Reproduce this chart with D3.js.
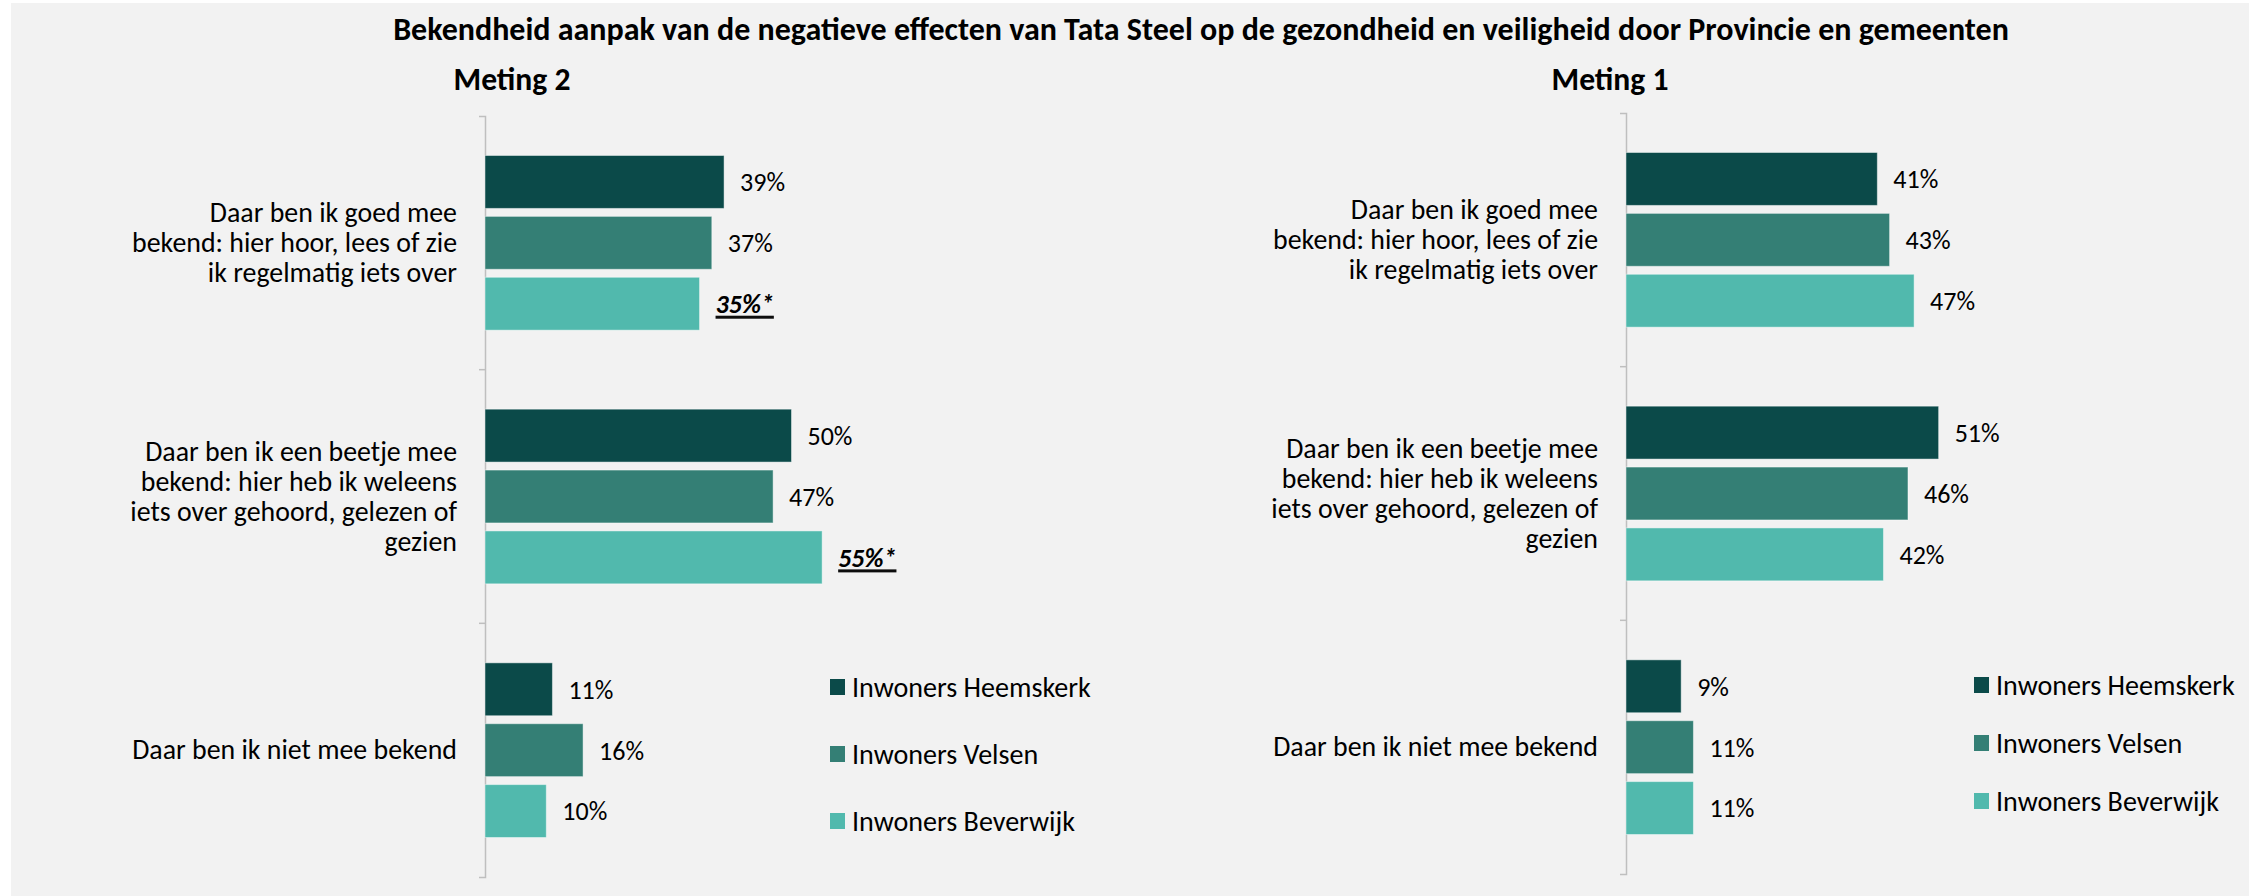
<!DOCTYPE html>
<html>
<head>
<meta charset="utf-8">
<script src="https://cdn.jsdelivr.net/npm/d3@7"></script>
<style>
  body { margin: 0; background: #ffffff; }
  text { font-family: Carlito, Calibri, Lato, "Open Sans", sans-serif; fill: #000; }
</style>
</head>
<body>
<svg id="chart" width="2249" height="896"></svg>
<script>
// categories (wrapped like in the original)
const categories = [
    "Daar ben ik goed mee bekend: hier hoor, lees of zie ik regelmatig iets over",
    "Daar ben ik een beetje mee bekend: hier heb ik weleens iets over gehoord, gelezen of gezien",
    "Daar ben ik niet mee bekend"
];
const categoryLines = [
    ["Daar ben ik goed mee", "bekend: hier hoor, lees of zie", "ik regelmatig iets over"],
    ["Daar ben ik een beetje mee", "bekend: hier heb ik weleens", "iets over gehoord, gelezen of", "gezien"],
    ["Daar ben ik niet mee bekend"]
];
const series = ["Inwoners Heemskerk", "Inwoners Velsen", "Inwoners Beverwijk"];
const colors = ["#0b4a49", "#347f75", "#51b9ad"];

// Meting 2
const m2Heemskerk = [39, 50, 11];
const m2Velsen = [37, 47, 16];
const m2Beverwijk = [35, 55, 10];
const m2Beverwijk_sig = [true, true, false];

// Meting 1
const m1Heemskerk = [41, 51, 9];
const m1Velsen = [43, 46, 11];
const m1Beverwijk = [47, 42, 11];

const title = "Bekendheid aanpak van de negatieve effecten van Tata Steel op de gezondheid en veiligheid door Provincie en gemeenten";

const svg = d3.select("#chart");
const width = +svg.attr("width"), height = +svg.attr("height");

svg.append("rect")
    .attr("x", 11).attr("y", 3)
    .attr("width", width - 11).attr("height", height - 3)
    .attr("fill", "#f2f2f2");

// pick a font size so the text gets the width it has in the original
function fitSize(str, weight, target) {
    const t = svg.append("text").attr("font-size", 20).attr("font-weight", weight).text(str);
    const w = t.node().getComputedTextLength();
    t.remove();
    return 20 * target / w;
}
const titleSize = fitSize(title, "bold", 1616);
const metingSize = fitSize("Meting 2", "bold", 117);
const catSize = fitSize("Daar ben ik niet mee bekend", "normal", 325);
const legendSize = fitSize("Inwoners Heemskerk", "normal", 239);
const valueSize = fitSize("39%", "normal", 45);

svg.append("text")
    .attr("x", 1201).attr("y", 40)
    .attr("text-anchor", "middle")
    .attr("font-weight", "bold")
    .attr("font-size", titleSize)
    .attr("fill", "#262626")
    .text(title);

const x = d3.scaleLinear().domain([0, 100]).range([0, 613]);

const panels = [
    { name: "Meting 2", values: [m2Heemskerk, m2Velsen, m2Beverwijk], sig: [null, null, m2Beverwijk_sig],
      axisX: 485, top: 116, bottom: 877, titleX: 512, legendX: 830, legendY: 687, legendStep: 67 },
    { name: "Meting 1", values: [m1Heemskerk, m1Velsen, m1Beverwijk], sig: [null, null, null],
      axisX: 1626, top: 113, bottom: 874, titleX: 1610, legendX: 1974, legendY: 685, legendStep: 58 }
];

panels.forEach(p => {
    const g = svg.append("g");

    g.append("text")
        .attr("x", p.titleX).attr("y", 90)
        .attr("text-anchor", "middle")
        .attr("font-weight", "bold")
        .attr("font-size", metingSize)
        .attr("fill", "#262626")
        .text(p.name);

    const y = d3.scaleBand().domain(categories).range([p.top, p.bottom]);
    const inner = d3.scaleBand().domain(series)
        .range([39.5, y.bandwidth() - 39.5])
        .paddingInner(0.131);

    // axis line with ticks on the band edges
    const axis = g.append("g")
        .attr("transform", `translate(${p.axisX},0)`)
        .call(d3.axisLeft(y).tickSizeInner(0).tickSizeOuter(6).tickFormat(""));
    axis.select(".domain").attr("stroke", "#bfbfbf").attr("stroke-width", 1.5);
    axis.selectAll(".tick").remove();
    categories.slice(1).forEach(c => {
        axis.append("line")
            .attr("x1", -6).attr("x2", 0)
            .attr("y1", y(c)).attr("y2", y(c))
            .attr("stroke", "#bfbfbf").attr("stroke-width", 1.5);
    });

    // category labels
    categories.forEach((c, i) => {
        const lines = categoryLines[i];
        const lh = 30;
        const cy = y(c) + y.bandwidth() / 2;
        const t = g.append("text")
            .attr("text-anchor", "end")
            .attr("font-size", catSize)
            .attr("fill", "#0d0d0d");
        lines.forEach((ln, k) => {
            t.append("tspan")
                .attr("x", p.axisX - 28)
                .attr("y", cy + (k - (lines.length - 1) / 2) * lh)
                .attr("dy", "0.33em")
                .text(ln);
        });
    });

    // bars
    series.forEach((s, si) => {
        const vals = p.values[si];
        const sig = p.sig[si];
        categories.forEach((c, ci) => {
            const by = y(c) + inner(s);
            const v = vals[ci];
            g.append("rect")
                .attr("x", p.axisX)
                .attr("y", by)
                .attr("width", x(v))
                .attr("height", inner.bandwidth())
                .attr("fill", colors[si])
                .attr("stroke", "#ffffff")
                .attr("stroke-opacity", 0.45)
                .attr("stroke-width", 1);

            const isSig = sig && sig[ci];
            const lbl = g.append("text")
                .attr("x", p.axisX + x(v) + 16)
                .attr("y", by + inner.bandwidth() / 2)
                .attr("dy", "0.36em")
                .attr("font-size", valueSize)
                .attr("fill", "#0d0d0d")
                .text(v + "%" + (isSig ? "*" : ""));
            if (isSig) {
                lbl.attr("font-weight", "bold").attr("font-style", "italic");
                const lw = lbl.node().getComputedTextLength();
                g.append("rect")
                    .attr("x", p.axisX + x(v) + 16)
                    .attr("y", by + inner.bandwidth() / 2 + 12)
                    .attr("width", lw)
                    .attr("height", 3)
                    .attr("fill", "#0d0d0d");
            }
        });
    });

    // legend
    const leg = g.append("g").selectAll("g")
        .data(series)
        .join("g")
        .attr("transform", (d, i) => `translate(${p.legendX},${p.legendY + i * p.legendStep})`);
    leg.append("rect")
        .attr("x", 0).attr("y", -8)
        .attr("width", 15).attr("height", 16)
        .attr("fill", (d, i) => colors[i]);
    leg.append("text")
        .attr("x", 22).attr("y", 0)
        .attr("dy", "0.35em")
        .attr("font-size", legendSize)
        .attr("fill", "#0d0d0d")
        .text(d => d);
});
</script>
</body>
</html>
